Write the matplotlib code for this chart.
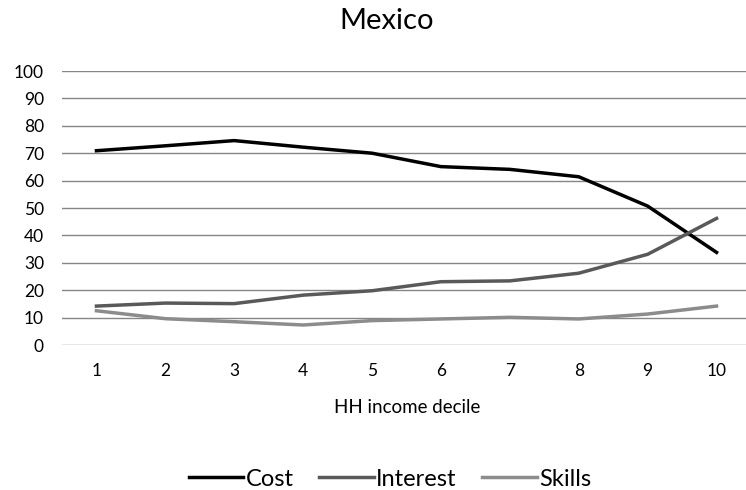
import matplotlib.pyplot as plt

plt.rcParams['font.family'] = ['Lato', 'DejaVu Sans']

deciles = [1, 2, 3, 4, 5, 6, 7, 8, 9, 10]
cost = [70.9, 72.7, 74.6, 72.2, 70.0, 65.1, 64.1, 61.4, 50.7, 33.8]
interest = [14.2, 15.3, 15.1, 18.2, 19.8, 23.1, 23.4, 26.2, 33.1, 46.2]
skills = [12.5, 9.6, 8.5, 7.3, 8.9, 9.5, 10.1, 9.5, 11.3, 14.2]
yticks = [0, 10, 20, 30, 40, 50, 60, 70, 80, 90, 100]

W, H = 746, 490
fig = plt.figure(figsize=(W / 100, H / 100), dpi=100, facecolor='white')
ax = fig.add_axes([62 / W, 1 - 345 / H, 689 / W, 274 / H])

for y in yticks:
    ax.axhline(y, color='#868686', linewidth=1.0, zorder=1)

ax.plot(deciles, cost, color='#000000', linewidth=2.5, label='Cost', zorder=3)
ax.plot(deciles, interest, color='#595959', linewidth=2.5, label='Interest', zorder=3)
ax.plot(deciles, skills, color='#8c8c8c', linewidth=2.5, label='Skills', zorder=3)

ax.set_xlim(0.5, 10.5)
ax.set_ylim(0, 100)
ax.set_xticks(deciles)
ax.set_yticks(yticks)
ax.tick_params(axis='both', length=0, labelsize=12.5, colors='#000000')
ax.tick_params(axis='x', pad=13)
ax.tick_params(axis='y', pad=13)
for s in ax.spines.values():
    s.set_visible(False)

# axis title and chart title placed on their baselines
fig.text(407 / W, 1 - 413 / H, 'HH income decile', ha='center', va='baseline', fontsize=13.5)
fig.text(387 / W, 1 - 29 / H, 'Mexico', ha='center', va='baseline', fontsize=21)

fig.legend(loc='center', bbox_to_anchor=(390 / W, 1 - 479 / H), ncol=3,
           frameon=False, fontsize=17, handlelength=2.3, handletextpad=0.1,
           columnspacing=1.1, borderpad=0)

fig.savefig('out.png', dpi=100, facecolor='white')
